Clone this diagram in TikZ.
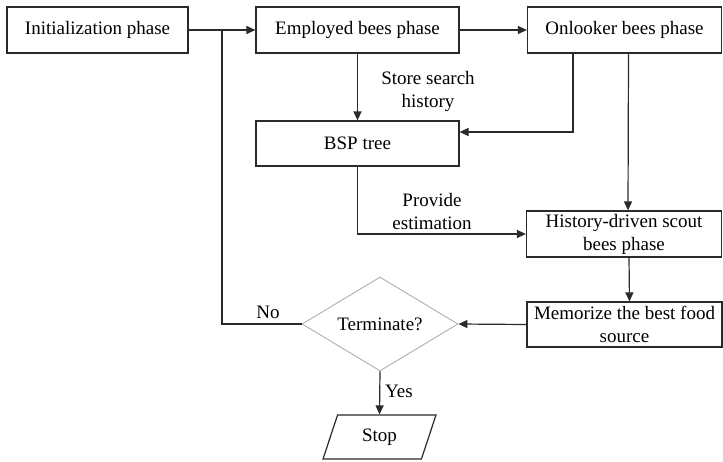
\documentclass[tikz,border=0pt]{standalone}
\usepackage{fontspec}
\setmainfont{Liberation Serif}
\usetikzlibrary{arrows.meta,shapes.geometric}
\definecolor{ln}{HTML}{2A2A2A}
\definecolor{dia}{HTML}{B0B0B0}
\tikzset{
  txt/.style={font=\fontsize{19}{23}\selectfont, text=black, align=center, inner sep=0pt},
  box/.style={txt, draw=ln, line width=1.2pt, rectangle},
  arr/.style={draw=ln, line width=1.2pt, -{Triangle[length=9pt,width=8pt]}},
  con/.style={draw=ln, line width=1.2pt},
}
\begin{document}
\begin{tikzpicture}[x=1pt,y=-1pt]
\useasboundingbox[fill=white] (0,0) rectangle (723,461);
\node[box, minimum width=181pt, minimum height=46pt] (init) at (97.5,30) {Initialization phase};
\node[box, minimum width=203pt, minimum height=46pt] (emp) at (357.5,30) {Employed bees phase};
\node[box, minimum width=194pt, minimum height=46pt] (onl) at (624.5,30) {Onlooker bees phase};
\node[box, minimum width=203pt, minimum height=45pt] (bsp) at (357.5,143.5) {BSP tree};
\node[box, minimum width=195pt, minimum height=46pt] (hist) at (624,234) {History-driven scout\\bees phase};
\node[box, minimum width=195pt, minimum height=45pt] (mem) at (624.5,324.5) {Memorize the best food\\source};
\node[txt, draw=dia, line width=0.9pt, diamond, aspect=1.66, minimum width=156pt, minimum height=94pt] (term) at (380,324) {Terminate?};
\node[txt, draw=ln, line width=1.2pt, trapezium, trapezium left angle=70, trapezium right angle=110, trapezium stretches=true, minimum width=113pt, minimum height=44pt] (stop) at (379.5,437) {Stop};
\node[txt] (store) at (428,91.5) {Store search\\history};
\node[txt] (prov) at (432,211.5) {Provide\\estimation};
\node[txt] (no) at (268,312) {No};
\node[txt] (yes) at (399,391) {Yes};
\coordinate (junc) at (222,30);
\draw[arr] (init.east) -- (emp.west);
\draw[arr] (emp.east) -- (onl.west);
\draw[arr] (emp.south) -- (bsp.north);
\draw[arr] ([xshift=46pt]onl.south west) |- ([yshift=11.5pt]bsp.east);
\draw[arr] ([xshift=4pt]onl.south) -- ([xshift=4pt]hist.north);
\draw[arr] (bsp.south) |- (hist.west);
\draw[arr] ([xshift=5pt]hist.south) -- ([xshift=5pt]mem.north);
\draw[arr] (mem.west) -- (term.east);
\draw[con] (term.west) -| (junc);
\draw[arr] (term.south) -- (stop.north);
\end{tikzpicture}
\end{document}
